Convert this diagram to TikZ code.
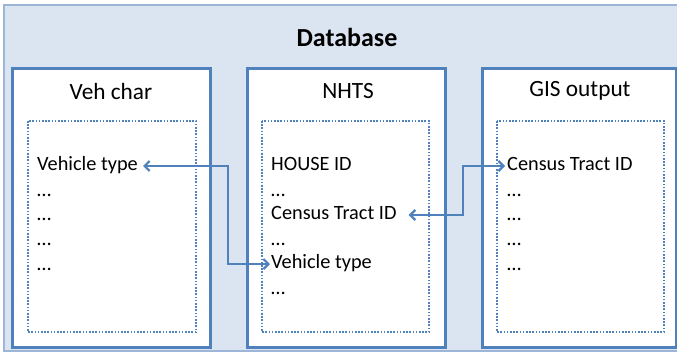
\documentclass[tikz,border=0pt]{standalone}
\usepackage{fontspec}
\setmainfont{Carlito}
\usetikzlibrary{arrows.meta}
\definecolor{dbfill}{HTML}{DBE4F1}
\definecolor{dbline}{HTML}{9DB5D6}
\definecolor{boxblue}{HTML}{4F81BD}
\tikzset{
  outerbox/.style={draw=dbline, fill=dbfill, line width=2.2pt},
  tablebox/.style={draw=boxblue, fill=white, line width=3pt},
  innerbox/.style={draw=boxblue, line width=2.2pt, dash pattern=on 1.6pt off 1.6pt},
  title/.style={font=\fontsize{23.3}{26}\selectfont, inner sep=0pt},
  item/.style={anchor=west, font=\fontsize{20.3}{23}\selectfont, inner sep=0pt, text height=13pt, text depth=4pt},
  link/.style={draw=boxblue, line width=2.2pt, {Straight Barb[length=5pt,width=10pt]}-{Straight Barb[length=5pt,width=10pt]}}
}
\begin{document}
\begin{tikzpicture}[x=1pt,y=-1pt]
\useasboundingbox (0,0) rectangle (677,354);
\draw[outerbox] (4,5) rectangle (690,351);
\node[title, font=\fontsize{26}{29}\selectfont\bfseries] (db) at (347,37) {Database};
% table boxes
\draw[tablebox] (12,68) rectangle (210,347);
\draw[tablebox] (247,68) rectangle (445,347);
\draw[tablebox] (482,68) rectangle (676,347);
\node[title] (t1) at (111,91) {Veh char};
\node[title] (t2) at (348,91) {NHTS};
\node[title] (t3) at (580,91) {GIS output};
% dotted inner boxes
\draw[innerbox] (28,121) rectangle (196,332);
\draw[innerbox] (262,121) rectangle (429,332);
\draw[innerbox] (497,121) rectangle (664,332);
% Veh char items
\node[item] (a1) at (37,166) {Vehicle type};
\node[item] (a2) at (37,192) {…};
\node[item] (a3) at (37,216) {…};
\node[item] (a4) at (37,241) {…};
\node[item] (a5) at (37,266) {…};
% NHTS items
\node[item] (b1) at (271,166) {HOUSE ID};
\node[item] (b2) at (271,192) {…};
\node[item] (b3) at (271,215) {Census Tract ID};
\node[item] (b4) at (271,241) {…};
\node[item] (b5) at (271,264) {Vehicle type};
\node[item] (b6) at (271,290) {…};
% GIS items
\node[item] (c1) at (507,166) {Census Tract ID};
\node[item] (c2) at (507,192) {…};
\node[item] (c3) at (507,216) {…};
\node[item] (c4) at (507,241) {…};
\node[item] (c5) at (507,266) {…};
% connectors
\coordinate (j1) at (228,166);
\coordinate (j2) at (463,215);
\draw[link] ([xshift=5pt]a1.east) -- (j1) |- ([xshift=-1pt]b5.west);
\draw[link] ([xshift=12pt]b3.east) -- (j2) |- ([xshift=-2pt]c1.west);
\end{tikzpicture}
\end{document}
